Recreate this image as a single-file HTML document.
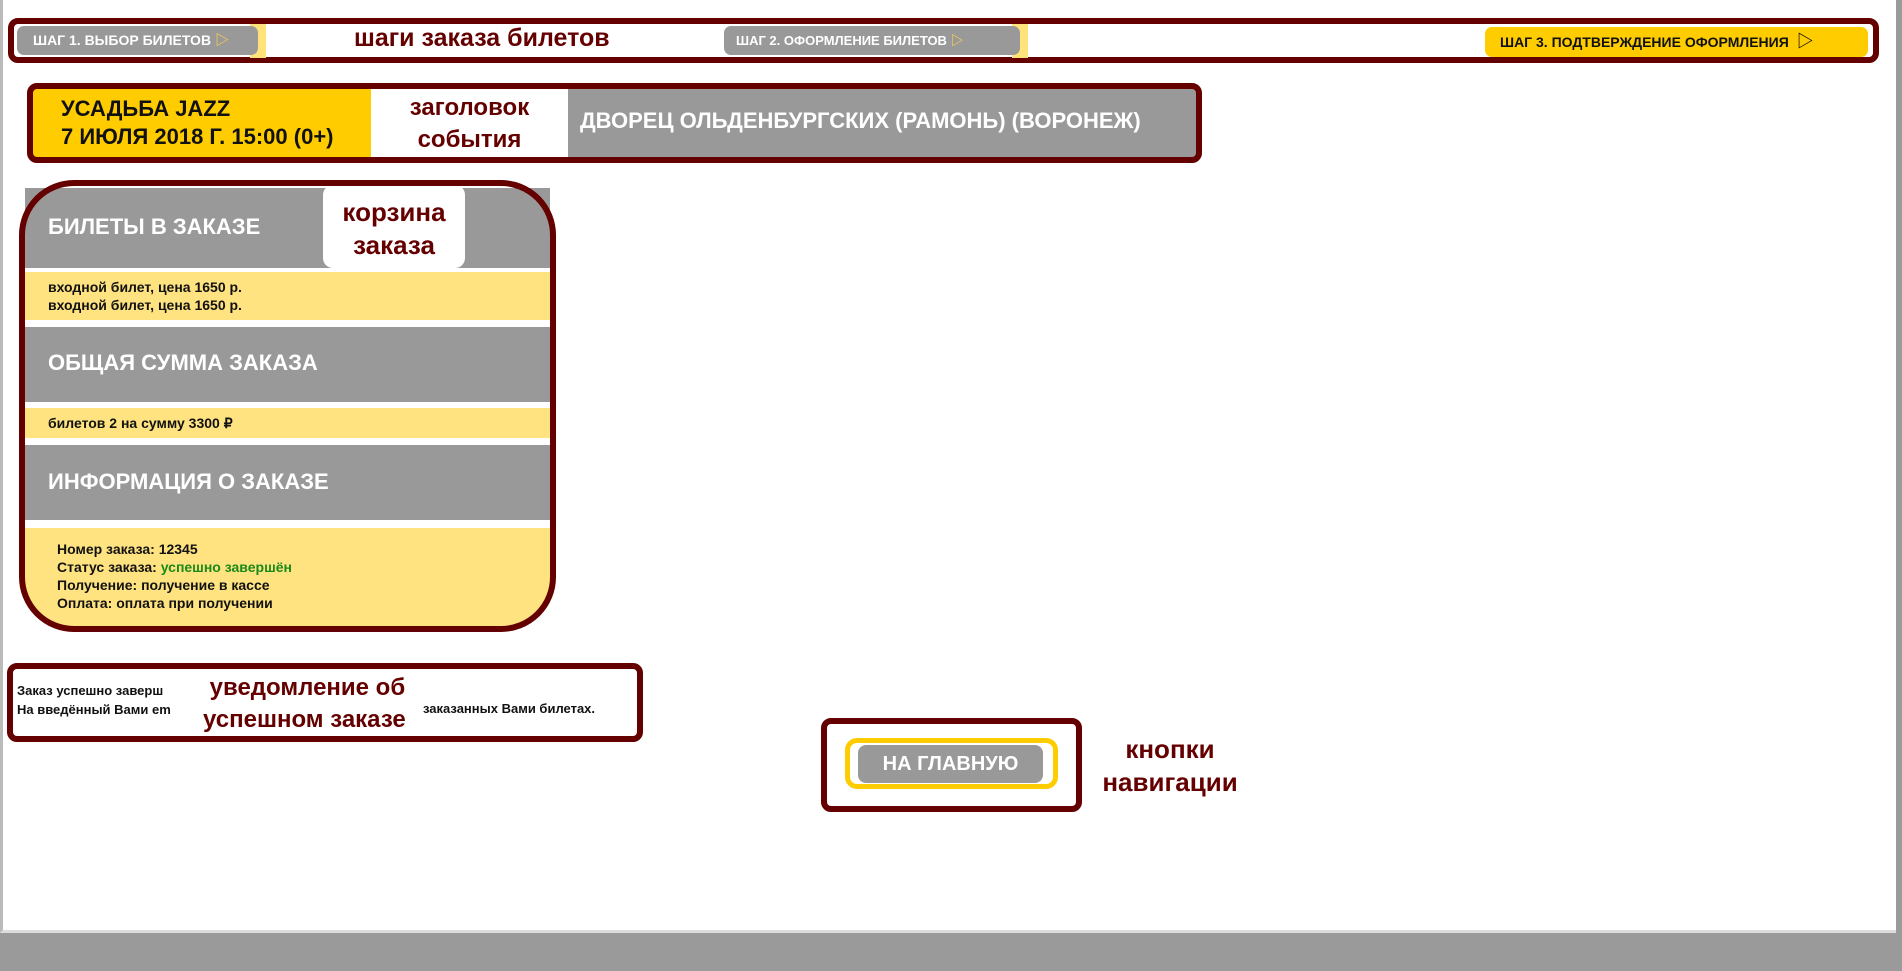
<!DOCTYPE html>
<html><head><meta charset="utf-8"><style>
*{margin:0;padding:0;box-sizing:border-box}
body{width:1902px;height:971px;background:#9a9a9a;position:relative;overflow:hidden;font-family:"Liberation Sans","Noto Sans CJK SC",sans-serif;font-weight:bold}
.a{position:absolute}
.page{left:0;top:0;width:1896px;height:933px;background:#fff;border-left:3px solid #bbb;border-bottom:3px solid #ddd}
.frame{border:6px solid #650000;border-radius:10px}
.lbl{color:#650000;white-space:nowrap}
.pill{border-radius:7px;font-size:14px;line-height:29px;white-space:nowrap}
.gray{background:#999}
.yel{background:#ffe380}
.h{color:#fff;font-size:22px;white-space:nowrap}
.s{font-size:14px;color:#111;line-height:18px;white-space:nowrap}
</style></head><body>
<div class="a page"></div>

<!-- steps -->
<div class="a frame" style="left:8px;top:18px;width:1871px;height:45px"></div>
<div class="a" style="left:250px;top:24px;width:16px;height:34px;background:#ffe27a"></div>
<div class="a pill gray" style="left:17px;top:26px;width:241px;height:29px;color:#fff;padding-left:16px">ШАГ 1. ВЫБОР БИЛЕТОВ <span style="color:#ffd24a">▷</span></div>
<div class="a lbl" style="left:354px;top:24px;font-size:25px">шаги заказа билетов</div>
<div class="a" style="left:1012px;top:24px;width:16px;height:34px;background:#ffe27a"></div>
<div class="a pill gray" style="left:724px;top:26px;width:296px;height:29px;color:#fff;padding-left:12px;font-size:13px">ШАГ 2. ОФОРМЛЕНИЕ БИЛЕТОВ <span style="color:#ffd24a">▷</span></div>
<div class="a pill" style="left:1485px;top:27px;width:383px;height:30px;background:#ffcc00;color:#111;padding-left:15px;font-size:14px">ШАГ 3. ПОДТВЕРЖДЕНИЕ ОФОРМЛЕНИЯ &nbsp;<span style="font-size:17px">▷</span></div>

<!-- event header -->
<div class="a" style="left:30px;top:88px;width:341px;height:71px;background:#ffcc00"></div>
<div class="a" style="left:568px;top:88px;width:630px;height:71px;background:#999"></div>
<div class="a frame" style="left:27px;top:83px;width:1175px;height:80px"></div>
<div class="a" style="left:61px;top:95px;font-size:22px;line-height:28px;color:#111;white-space:nowrap">УСАДЬБА JAZZ<br>7 ИЮЛЯ 2018 Г. 15:00 (0+)</div>
<div class="a lbl" style="left:371px;top:92px;width:197px;text-align:center;font-size:24px;line-height:32px">заголовок<br>события</div>
<div class="a h" style="left:580px;top:108px">ДВОРЕЦ ОЛЬДЕНБУРГСКИХ (РАМОНЬ) (ВОРОНЕЖ)</div>

<!-- basket -->
<div class="a gray" style="left:25px;top:188px;width:525px;height:80px"></div>
<div class="a" style="left:323px;top:185px;width:142px;height:83px;background:#fff;border-radius:10px"></div>
<div class="a lbl" style="left:323px;top:196px;width:142px;text-align:center;font-size:26px;line-height:33px">корзина<br>заказа</div>
<div class="a h" style="left:48px;top:214px">БИЛЕТЫ В ЗАКАЗЕ</div>
<div class="a yel" style="left:25px;top:272px;width:525px;height:48px"></div>
<div class="a s" style="left:48px;top:278px">входной билет, цена 1650 р.<br>входной билет, цена 1650 р.</div>
<div class="a gray" style="left:25px;top:327px;width:525px;height:75px"></div>
<div class="a h" style="left:48px;top:350px">ОБЩАЯ СУММА ЗАКАЗА</div>
<div class="a yel" style="left:25px;top:408px;width:525px;height:30px"></div>
<div class="a s" style="left:48px;top:414px">билетов 2 на сумму 3300 ₽</div>
<div class="a gray" style="left:25px;top:445px;width:525px;height:75px"></div>
<div class="a h" style="left:48px;top:469px">ИНФОРМАЦИЯ О ЗАКАЗЕ</div>
<div class="a yel" style="left:22px;top:528px;width:530px;height:100px;border-radius:0 0 45px 45px"></div>
<div class="a s" style="left:57px;top:540px">Номер заказа: 12345<br>Статус заказа: <span style="color:#1a8a1a">успешно завершён</span><br>Получение: получение в кассе<br>Оплата: оплата при получении</div>
<div class="a" style="left:19px;top:180px;width:537px;height:452px;border:6px solid #650000;border-radius:55px"></div>

<!-- notification -->
<div class="a frame" style="left:7px;top:663px;width:636px;height:79px"></div>
<div class="a s" style="left:17px;top:681px;font-size:13px;line-height:19px">Заказ успешно заверш<br>На введённый Вами em</div>
<div class="a s" style="left:423px;top:700px;font-size:13px">заказанных Вами билетах.</div>
<div class="a lbl" style="left:203px;top:672px;font-size:24px;line-height:32px">&nbsp;уведомление об<br>успешном заказе</div>

<!-- nav -->
<div class="a frame" style="left:821px;top:718px;width:261px;height:94px"></div>
<div class="a" style="left:845px;top:738px;width:213px;height:51px;border:5px solid #ffcc00;border-radius:12px"></div>
<div class="a" style="left:858px;top:745px;width:185px;height:38px;background:#999;border-radius:8px;color:#fff;font-size:20px;line-height:38px;text-align:center">НА ГЛАВНУЮ</div>
<div class="a lbl" style="left:1090px;top:733px;width:160px;text-align:center;font-size:26px;line-height:33px">кнопки<br>навигации</div>
</body></html>
